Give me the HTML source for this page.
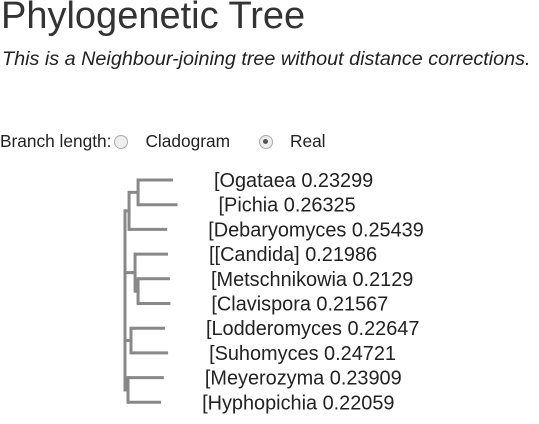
<!DOCTYPE html>
<html><head><meta charset="utf-8"><style>
body{margin:0;width:539px;height:424px;overflow:hidden;background:#fff;font-family:"Liberation Sans",Arial,sans-serif;color:#222}
h1{position:absolute;left:1px;top:-5px;margin:0;font-weight:normal;font-size:38px;color:#333}
.sub{position:absolute;left:2px;top:48px;font-style:italic;font-size:19.8px}
.ctl{position:absolute;left:0;top:131px;font-size:17.3px;display:flex;align-items:center}
.rb{display:inline-block;width:12px;height:12px;border:1px solid #aaa;border-radius:50%;background:#eee;margin:0 4px 0 3px;position:relative}
.rb.on::after{content:"";position:absolute;left:3.5px;top:3.5px;width:5px;height:5px;border-radius:50%;background:#555}
svg{position:absolute;left:0;top:0}
</style></head><body>
<h1>Phylogenetic Tree</h1>
<div class="sub">This is a Neighbour-joining tree without distance corrections.</div>
<div class="ctl">
<span>Branch length:</span>
<span class="rb"></span><span style="margin-left:13px;margin-right:26px">Cladogram</span>
<span class="rb on"></span><span style="margin-left:13px">Real</span>
</div>
<svg id="tree" width="539" height="424"></svg>
<script>
const leafNames=["Ogataea","Pichia","Debaryomyces","[Candida]","Metschnikowia","Clavispora","Lodderomyces","Suhomyces","Meyerozyma","Hyphopichia"];
const leafLengths=[0.23299,0.26325,0.25439,0.21986,0.2129,0.21567,0.22647,0.24721,0.23909,0.22059];
const tree={len:0,children:[
 {len:0.027,children:[{len:0.06,children:[{leaf:0},{leaf:1}]},{leaf:2}]},
 {len:0.047,children:[{len:0.02,children:[{leaf:3},{len:0.02,children:[{leaf:4},{leaf:5}]}]}]},
 {len:0.04,children:[{leaf:6},{leaf:7}]},
 {len:0.02,children:[{leaf:8},{leaf:9}]}
]};
const NS="http://www.w3.org/2000/svg";
const svg=document.getElementById('tree');
const x0=125,kx=150,y0=180,dy=24.7;
function xs(d){return x0+d*kx}
function ys(i){return y0+i*dy}
function line(x1,y1,x2,y2){const l=document.createElementNS(NS,'line');
l.setAttribute('x1',x1);l.setAttribute('y1',y1);l.setAttribute('x2',x2);l.setAttribute('y2',y2);
l.setAttribute('stroke','#888');l.setAttribute('stroke-width','3');


svg.appendChild(l);}
function draw(n,depth){
 if(n.leaf!==undefined){
  const d=depth+leafLengths[n.leaf];const y=ys(n.leaf);
  line(xs(depth),y,xs(d),y);
  const t=document.createElementNS(NS,'text');
  t.setAttribute('x',xs(d)+41);t.setAttribute('y',y+7);
  t.setAttribute('font-size','19.9');t.setAttribute('fill','#222');
  t.textContent='['+leafNames[n.leaf]+' '+leafLengths[n.leaf];
  
  
  svg.appendChild(t);return y;}
 const d=depth+n.len;
 const cy=n.children.map(c=>draw(c,d));
 const mn=Math.min(...cy),mx=Math.max(...cy);
 line(xs(d),mn-1.5,xs(d),mx+1.5);
 const my=(mn+mx)/2;
 if(n.len>0)line(xs(depth),my,xs(d)+1.5,my);
 return my;}
draw(tree,0);
</script>
</body></html>
